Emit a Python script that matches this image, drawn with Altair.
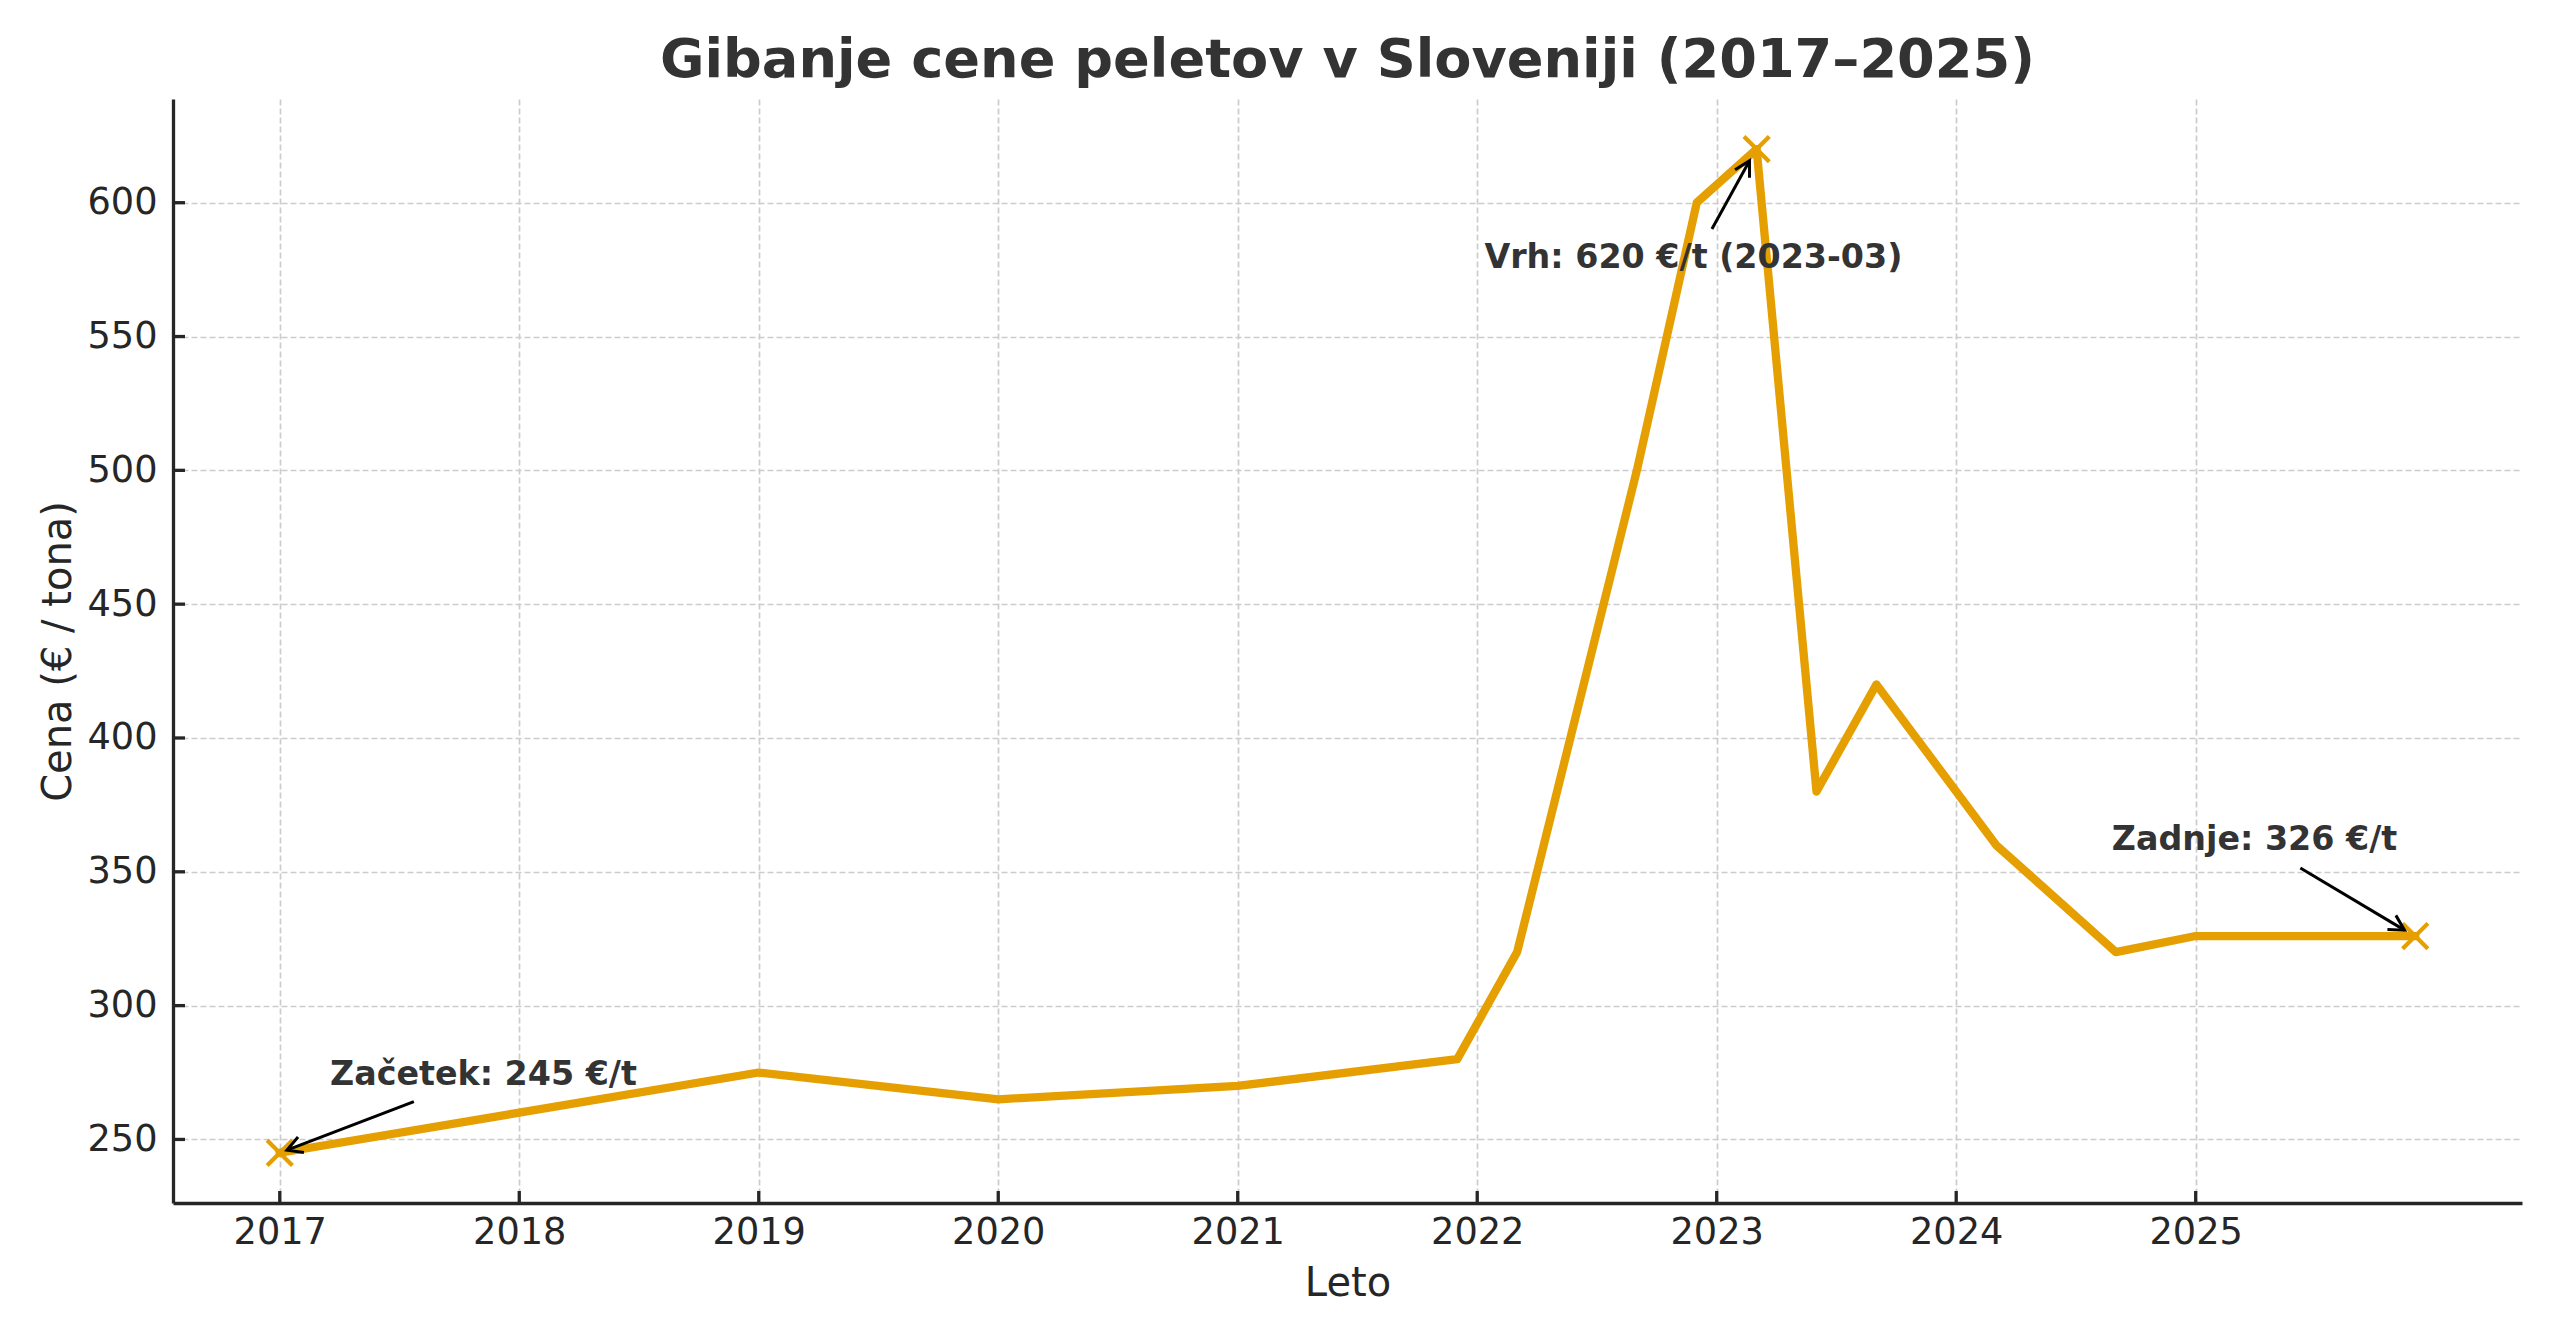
import math
import altair as alt
import pandas as pd

# ---- data ----
months = ["2017-01", "2018-01", "2019-01", "2020-01", "2021-01", "2021-12",
          "2022-03", "2022-09", "2022-12", "2023-03", "2023-06", "2023-09",
          "2024-03", "2024-09", "2025-01", "2025-12"]
prices = [245, 260, 275, 265, 270, 280, 320, 500, 600, 620, 380, 420,
          360, 320, 326, 326]

marker_months = ["2017-01", "2023-03", "2025-12"]
marker_prices = [245, 620, 326]

ann_text = ["Začetek: 245 €/t", "Vrh: 620 €/t (2023-03)", "Zadnje: 326 €/t"]
ann_text_x = [2017.21, 2022.03, 2024.65]
ann_text_y = [270.4, 575.5, 358.0]
arrow_x0 = [2017.56, 2022.98, 2025.437]
arrow_y0 = [264.1, 590.2, 351.4]
arrow_x1 = [2017.03, 2023.137, 2025.872]
arrow_y1 = [246.0, 615.7, 328.2]

x_ticks = [2017, 2018, 2019, 2020, 2021, 2022, 2023, 2024, 2025]
y_ticks = [250, 300, 350, 400, 450, 500, 550, 600]

TITLE = "Gibanje cene peletov v Sloveniji (2017–2025)"
X_TITLE = "Leto"
Y_TITLE = "Cena (€ / tona)"


def to_year(m):
    y, mo = m.split("-")
    return int(y) + (int(mo) - 1) / 12.0


# ---- layout / style ----
W, H = 2349, 1104
FONT = "DejaVu Sans"
LINE_COLOR = "#E69F00"
TEXT_DARK = "#333333"
AXIS_COLOR = "#262626"

years = [to_year(m) for m in months]
xmin, xmax = min(years), max(years)
xm = 0.05 * (xmax - xmin)
x_domain = [xmin - xm, xmax + xm]
ymin, ymax = min(prices), max(prices)
ym = 0.05 * (ymax - ymin)
y_domain = [ymin - ym, ymax + ym]

xs = alt.Scale(domain=x_domain, nice=False, zero=False)
ys = alt.Scale(domain=y_domain, nice=False, zero=False)

line_df = pd.DataFrame({"year": years, "price": prices})
marker_df = pd.DataFrame({"year": [to_year(m) for m in marker_months],
                          "price": marker_prices})

px_x = W / (x_domain[1] - x_domain[0])
px_y = H / (y_domain[1] - y_domain[0])
angles = []
for a, b, c, d in zip(arrow_x0, arrow_y0, arrow_x1, arrow_y1):
    dx = (c - a) * px_x
    dy = -(d - b) * px_y
    angles.append(math.degrees(math.atan2(dy, dx)) % 360)

arrow_df = pd.DataFrame({"year": arrow_x0, "price": arrow_y0,
                         "year2": arrow_x1, "price2": arrow_y1,
                         "angle": angles})
head_df = pd.DataFrame({"year": arrow_x1, "price": arrow_y1, "angle": angles})
text_df = pd.DataFrame({"year": ann_text_x, "price": ann_text_y, "label": ann_text})
xt_df = pd.DataFrame({"year": x_ticks})
yt_df = pd.DataFrame({"price": y_ticks})

x_axis = alt.Axis(values=x_ticks, format="d", title=X_TITLE, ticks=False, tickSize=0,
                  labelPadding=11, labelFontSize=36.7, labelColor=AXIS_COLOR, labelFont=FONT,
                  domain=True, domainColor=AXIS_COLOR, domainWidth=3.3,
                  grid=True, gridColor="#cccccc", gridDash=[6, 3], gridWidth=1.7,
                  titleFont=FONT, titleFontSize=40, titleFontWeight="normal",
                  titleColor=AXIS_COLOR, titleBaseline="alphabetic", titleY=92)
y_axis = alt.Axis(values=y_ticks, format="d", title=Y_TITLE, ticks=False, tickSize=0,
                  labelPadding=16, labelFontSize=36.7, labelColor=AXIS_COLOR, labelFont=FONT,
                  domain=True, domainColor=AXIS_COLOR, domainWidth=3.3,
                  grid=True, gridColor="#cccccc", gridDash=[6, 3], gridWidth=1.7,
                  titleFont=FONT, titleFontSize=40, titleFontWeight="normal",
                  titleColor=AXIS_COLOR, titleBaseline="alphabetic", titleX=-103)

line = alt.Chart(line_df).mark_line(color=LINE_COLOR, strokeWidth=8.3,
                                    strokeJoin="round", strokeCap="square").encode(
    x=alt.X("year:Q", scale=xs, axis=x_axis),
    y=alt.Y("price:Q", scale=ys, axis=y_axis),
)

X_SHAPE = "M-1,-1L1,1M-1,1L1,-1"
markers = alt.Chart(marker_df).mark_point(shape=X_SHAPE, size=640, filled=False,
                                          strokeWidth=4.2, color=LINE_COLOR, opacity=1).encode(
    x=alt.X("year:Q", scale=xs),
    y=alt.Y("price:Q", scale=ys),
)

arrows = alt.Chart(arrow_df).mark_rule(color="black", strokeWidth=3).encode(
    x=alt.X("year:Q", scale=xs),
    y=alt.Y("price:Q", scale=ys),
    x2="year2:Q",
    y2="price2:Q",
)

HEAD = "M-1,-0.55L0,0L-1,0.55"
heads = alt.Chart(head_df).mark_point(shape=HEAD, size=900, filled=False,
                                      strokeWidth=3, color="black", opacity=1).encode(
    x=alt.X("year:Q", scale=xs),
    y=alt.Y("price:Q", scale=ys),
    angle=alt.Angle("angle:Q", scale=None),
)

texts = alt.Chart(text_df).mark_text(align="left", baseline="alphabetic", font=FONT,
                                     fontSize=33.3, fontWeight="bold", color=TEXT_DARK).encode(
    x=alt.X("year:Q", scale=xs),
    y=alt.Y("price:Q", scale=ys),
    text="label:N",
)

xticks = alt.Chart(xt_df).mark_rule(color=AXIS_COLOR, strokeWidth=3.3).encode(
    x=alt.X("year:Q", scale=xs),
    y=alt.value(H),
    y2=alt.value(H - 12),
)
yticks = alt.Chart(yt_df).mark_rule(color=AXIS_COLOR, strokeWidth=3.3).encode(
    y=alt.Y("price:Q", scale=ys),
    x=alt.value(0),
    x2=alt.value(12),
)

chart = alt.layer(line, markers, arrows, heads, texts, xticks, yticks).properties(
    width=W,
    height=H,
    background="white",
    autosize=alt.AutoSizeParams(type="none"),
    padding={"left": 165, "top": 91, "right": 30, "bottom": 130},
    title=alt.TitleParams(TITLE, font=FONT, fontSize=54.2, fontWeight="bold",
                          color=TEXT_DARK, anchor="middle", baseline="alphabetic",
                          offset=-32),
).configure_view(stroke=None)

chart.save("out.html", embed_options={"renderer": "svg", "actions": False})
